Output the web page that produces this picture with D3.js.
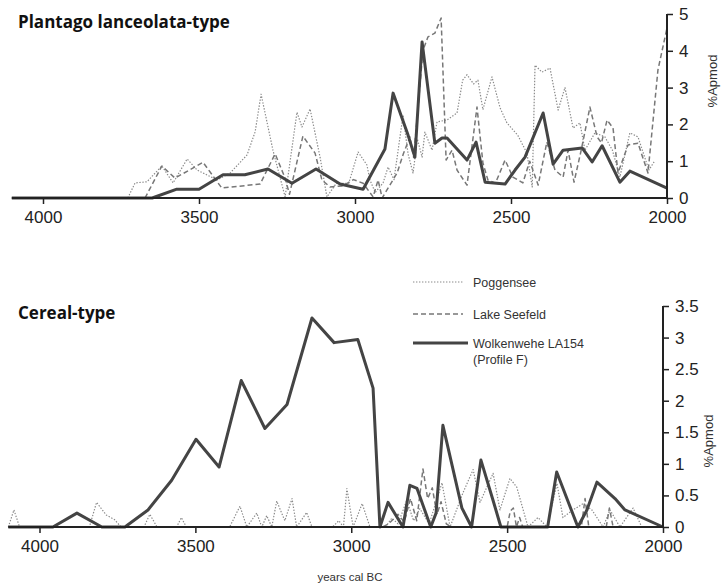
<!DOCTYPE html>
<html>
<head>
<meta charset="utf-8">
<script src="https://cdn.jsdelivr.net/npm/d3@7"></script>
<style>
  body { margin: 0; background: #fff; }
  svg { display: block; }
  .tick text { font-family: "Liberation Sans", Arial, sans-serif; font-size: 17px; fill: #222; }
  .title { font-family: "Open Sans", "Noto Sans", sans-serif; font-weight: 700; font-size: 17px; fill: #111; }
  .small { font-family: "Liberation Sans", Arial, sans-serif; font-size: 12.5px; fill: #333; }
  .ylab { font-family: "Liberation Sans", Arial, sans-serif; font-size: 13px; fill: #333; }
  .xlab { font-family: "Liberation Sans", Arial, sans-serif; font-size: 11.5px; fill: #333; }
</style>
</head>
<body>
<div id="chart"></div>
<script>
// chart size
const svgWidth = 721;
const svgHeight = 584;

// x ticks (years cal BC)
const yearTicks = [4000, 3500, 3000, 2500, 2000];
const plantagoTicks = [0, 1, 2, 3, 4, 5];
const cerealTicks = [0, 0.5, 1, 1.5, 2, 2.5, 3, 3.5];
const cerealTickLabels = ['0', '0.5', '1', '1.5', '2', '2.5', '3', '3.5'];

// Plantago lanceolata-type : [year BC, %Apmod]
const plantagoWolkenwehe = [
  [4100, 0], [3650, 0], [3571, 0.24], [3500, 0.24], [3423, 0.63], [3353, 0.63],
  [3279, 0.79], [3202, 0.4], [3125, 0.79], [3048, 0.38], [2974, 0.24], [2904, 1.33],
  [2878, 2.85], [2830, 1.71], [2808, 1.11], [2785, 4.24], [2744, 1.49], [2721, 1.63],
  [2705, 1.63], [2641, 1.03], [2612, 1.52], [2583, 0.43], [2519, 0.38], [2487, 0.76],
  [2455, 1.11], [2397, 2.31], [2365, 0.92], [2333, 1.3], [2272, 1.36], [2240, 0.98],
  [2208, 1.42], [2151, 0.43], [2119, 0.73], [2000, 0.27]
];
const plantagoSeefeld = [
  [3673, 0], [3619, 0.87], [3577, 0.54], [3487, 0.97], [3427, 0.27], [3304, 0.38],
  [3256, 1.2], [3224, 0.54], [3210, 0.1], [3167, 1.68], [3128, 1.22], [3106, 0.49],
  [3080, 0.3], [3038, 0.33], [3005, 0.5], [2974, 0.4], [2942, 0.03], [2926, 0.49],
  [2913, 0], [2865, 0.68], [2845, 1.2], [2824, 1.66], [2812, 1.1], [2782, 4.02],
  [2766, 4.38], [2744, 4.48], [2724, 4.89], [2708, 1.03], [2689, 1.3], [2673, 0.76],
  [2641, 0.35], [2609, 2.47], [2590, 0.95], [2574, 0.49], [2550, 0.4], [2519, 1.03],
  [2494, 0.57], [2462, 0.41], [2440, 1.0], [2413, 0.35], [2385, 1.52], [2359, 0.76],
  [2333, 0.57], [2317, 1.3], [2298, 0.43], [2275, 1.3], [2247, 2.47], [2224, 1.66],
  [2210, 1.5], [2192, 2.12], [2173, 1.9], [2157, 0.68], [2125, 1.44], [2093, 1.49],
  [2061, 0.68], [2029, 3.48], [2000, 4.62]
];
const plantagoPoggensee = [
  [3728, 0], [3705, 0.41], [3667, 0.44], [3619, 0.87], [3583, 0.41], [3538, 1.06],
  [3506, 0.76], [3442, 0.49], [3400, 0.68], [3346, 1.17], [3320, 1.8], [3301, 2.82],
  [3263, 1.3], [3224, 0.03], [3186, 2.33], [3170, 1.93], [3144, 2.42], [3112, 1.11],
  [3090, 0.03], [3060, 0.4], [3020, 0.4], [2990, 1.25], [2962, 0.9], [2952, 0.49],
  [2935, 0.15], [2910, 0.41], [2894, 0.84], [2875, 0.5], [2846, 2.25], [2830, 1.2],
  [2814, 0.68], [2800, 1.6], [2785, 1.11], [2776, 1.79], [2753, 1.3], [2737, 2.07],
  [2705, 2.12], [2673, 2.31], [2655, 3.2], [2641, 3.35], [2620, 3.1], [2606, 3.2],
  [2590, 2.4], [2561, 3.29], [2535, 2.45], [2513, 2.04], [2478, 1.7], [2449, 1.22],
  [2432, 0.3], [2423, 3.61], [2401, 3.42], [2375, 3.53], [2349, 2.39], [2327, 3.0],
  [2301, 1.9], [2279, 2.04], [2263, 1.3], [2231, 1.77], [2199, 1.66], [2175, 1.3],
  [2151, 0.57], [2119, 1.77], [2093, 1.66], [2058, 0.76], [2040, 1.0]
];

// Cereal-type : [year BC, %Apmod]
const cerealWolkenwehe = [
  [4100, 0], [3957, 0], [3880, 0.22], [3800, 0], [3726, 0], [3652, 0.27],
  [3576, 0.74], [3498, 1.39], [3424, 0.95], [3353, 2.32], [3277, 1.56], [3206, 1.94],
  [3126, 3.31], [3055, 2.92], [2979, 2.97], [2930, 2.2], [2908, 0], [2882, 0.39],
  [2834, 0], [2812, 0.66], [2789, 0.61], [2745, 0], [2728, 0.22], [2706, 1.61],
  [2645, 0.3], [2614, 0], [2584, 1.06], [2545, 0.42], [2520, 0], [2370, 0],
  [2341, 0.87], [2273, 0], [2244, 0.27], [2212, 0.71], [2154, 0.45], [2122, 0.27],
  [2000, 0]
];
const cerealSeefeld = [
  [3000, 0], [2900, 0], [2880, 0.05], [2850, 0.2], [2830, 0.08], [2810, 0.45],
  [2790, 0.1], [2770, 0.92], [2755, 0.45], [2740, 0.62], [2725, 0.2], [2712, 0.4],
  [2695, 0.05], [2680, 0], [2500, 0], [2490, 0.25], [2480, 0.3], [2470, 0],
  [2460, 0.15], [2450, 0], [2262, 0], [2250, 0.45], [2238, 0], [2182, 0],
  [2172, 0.3], [2160, 0], [2000, 0]
];
const cerealPoggensee = [
  [4100, 0], [4082, 0.27], [4064, 0], [3840, 0], [3817, 0.39], [3786, 0.19],
  [3760, 0.12], [3738, 0], [3665, 0], [3646, 0.2], [3623, 0], [3560, 0],
  [3545, 0.15], [3529, 0], [3390, 0], [3357, 0.33], [3335, 0], [3303, 0.22],
  [3287, 0], [3271, 0.18], [3255, 0], [3239, 0.41], [3213, 0.1], [3190, 0.45],
  [3175, 0], [3143, 0.23], [3126, 0], [3060, 0], [3040, 0.1], [3025, 0],
  [3014, 0.61], [2994, 0], [2965, 0.37], [2940, 0], [2890, 0], [2870, 0.14],
  [2850, 0.05], [2822, 0.42], [2800, 0.1], [2780, 0.29], [2750, 0.05], [2709, 0.7],
  [2683, 0], [2641, 0.55], [2609, 0.91], [2587, 0.39], [2545, 0.85], [2523, 0.27],
  [2491, 0.77], [2469, 0.63], [2433, 0], [2401, 0.15], [2372, 0], [2340, 0.69],
  [2321, 0.15], [2289, 0.27], [2256, 0.37], [2228, 0.27], [2192, 0], [2170, 0.27],
  [2138, 0], [2096, 0.3], [2068, 0], [2000, 0]
];

const seriesNames = ['Poggensee', 'Lake Seefeld', 'Wolkenwehe LA154'];

// line styles per series
const styles = {
  pog: { stroke: '#8a8a8a', width: 1.2, dash: '1.4,1.6' },
  see: { stroke: '#777', width: 1.5, dash: '5,3' },
  wol: { stroke: '#444', width: 3, dash: null }
};

var svg = d3.select('#chart')
  .append('svg')
  .attr('width', svgWidth)
  .attr('height', svgHeight);

function drawPanel(opts) {
  var x = d3.scaleLinear().domain([4000, 2000]).range([opts.x0, opts.x1]);
  var y = d3.scaleLinear().domain([0, opts.ymax]).range([opts.yBase, opts.yTop]);

  var line = d3.line()
    .x(d => x(d[0]))
    .y(d => y(d[1]));

  var g = svg.append('g');

  // series: dotted, dashed, then the thick one on top
  [[opts.pog, styles.pog], [opts.see, styles.see], [opts.wol, styles.wol]].forEach(function(s) {
    g.append('path')
      .datum(s[0])
      .attr('d', line)
      .attr('fill', 'none')
      .attr('stroke', s[1].stroke)
      .attr('stroke-width', s[1].width)
      .attr('stroke-dasharray', s[1].dash)
      .attr('stroke-linejoin', 'round');
  });

  // x axis
  var xAxis = g.append('g')
    .attr('transform', `translate(0, ${opts.yBase})`)
    .call(d3.axisBottom(x).tickValues(yearTicks).tickFormat(d3.format('d')).tickSize(6).tickPadding(7));
  xAxis.select('.domain').remove();
  xAxis.append('line')
    .attr('x1', x(4100)).attr('x2', x(2000))
    .attr('stroke', '#222').attr('stroke-width', 2);
  xAxis.selectAll('.tick line').attr('stroke', '#222').attr('stroke-width', 1.5);

  // y axis on the right
  var yAxis = g.append('g')
    .attr('transform', `translate(${opts.x1}, 0)`)
    .call(d3.axisRight(y).tickValues(opts.yTicks).tickFormat((d, i) => opts.yLabels[i]).tickSize(6).tickPadding(6));
  yAxis.select('.domain').attr('stroke', '#222').attr('stroke-width', 2)
    .attr('d', `M0,${opts.yTop}V${opts.yBase}`);
  yAxis.selectAll('.tick line').attr('stroke', '#222').attr('stroke-width', 1.5);

  // y label
  g.append('text')
    .attr('class', 'ylab')
    .attr('transform', `translate(${opts.x1 + 50}, ${opts.yLabelY}) rotate(-90)`)
    .attr('text-anchor', 'middle')
    .text('%Apmod');

  // panel title
  g.append('text')
    .attr('class', 'title')
    .attr('x', 18)
    .attr('y', opts.titleY)
    .text(opts.title);
}

drawPanel({
  title: 'Plantago lanceolata-type', titleY: 28,
  x0: 43, x1: 667, yBase: 198, yTop: 14, ymax: 5,
  yTicks: plantagoTicks, yLabels: plantagoTicks.map(String), yLabelY: 81,
  pog: plantagoPoggensee, see: plantagoSeefeld, wol: plantagoWolkenwehe
});

drawPanel({
  title: 'Cereal-type', titleY: 319,
  x0: 39.5, x1: 663, yBase: 527, yTop: 306, ymax: 3.5,
  yTicks: cerealTicks, yLabels: cerealTickLabels, yLabelY: 441,
  pog: cerealPoggensee, see: cerealSeefeld, wol: cerealWolkenwehe
});

// legend
var legend = svg.append('g');
var legendRows = [
  { name: seriesNames[0], style: styles.pog, y: 282, len: 50 },
  { name: seriesNames[1], style: styles.see, y: 314, len: 50 },
  { name: seriesNames[2], style: styles.wol, y: 343, len: 55 }
];
legendRows.forEach(function(r) {
  legend.append('line')
    .attr('x1', 413).attr('x2', 413 + r.len)
    .attr('y1', r.y).attr('y2', r.y)
    .attr('stroke', r.style.stroke)
    .attr('stroke-width', r.style.width)
    .attr('stroke-dasharray', r.style.dash);
  legend.append('text')
    .attr('class', 'small')
    .attr('x', 473).attr('y', r.y + 4.5)
    .text(r.name);
});
legend.append('text')
  .attr('class', 'small')
  .attr('x', 473).attr('y', 364)
  .text('(Profile F)');

// x axis title
svg.append('text')
  .attr('class', 'xlab')
  .attr('x', 350).attr('y', 581)
  .attr('text-anchor', 'middle')
  .text('years cal BC');
</script>
</body>
</html>
